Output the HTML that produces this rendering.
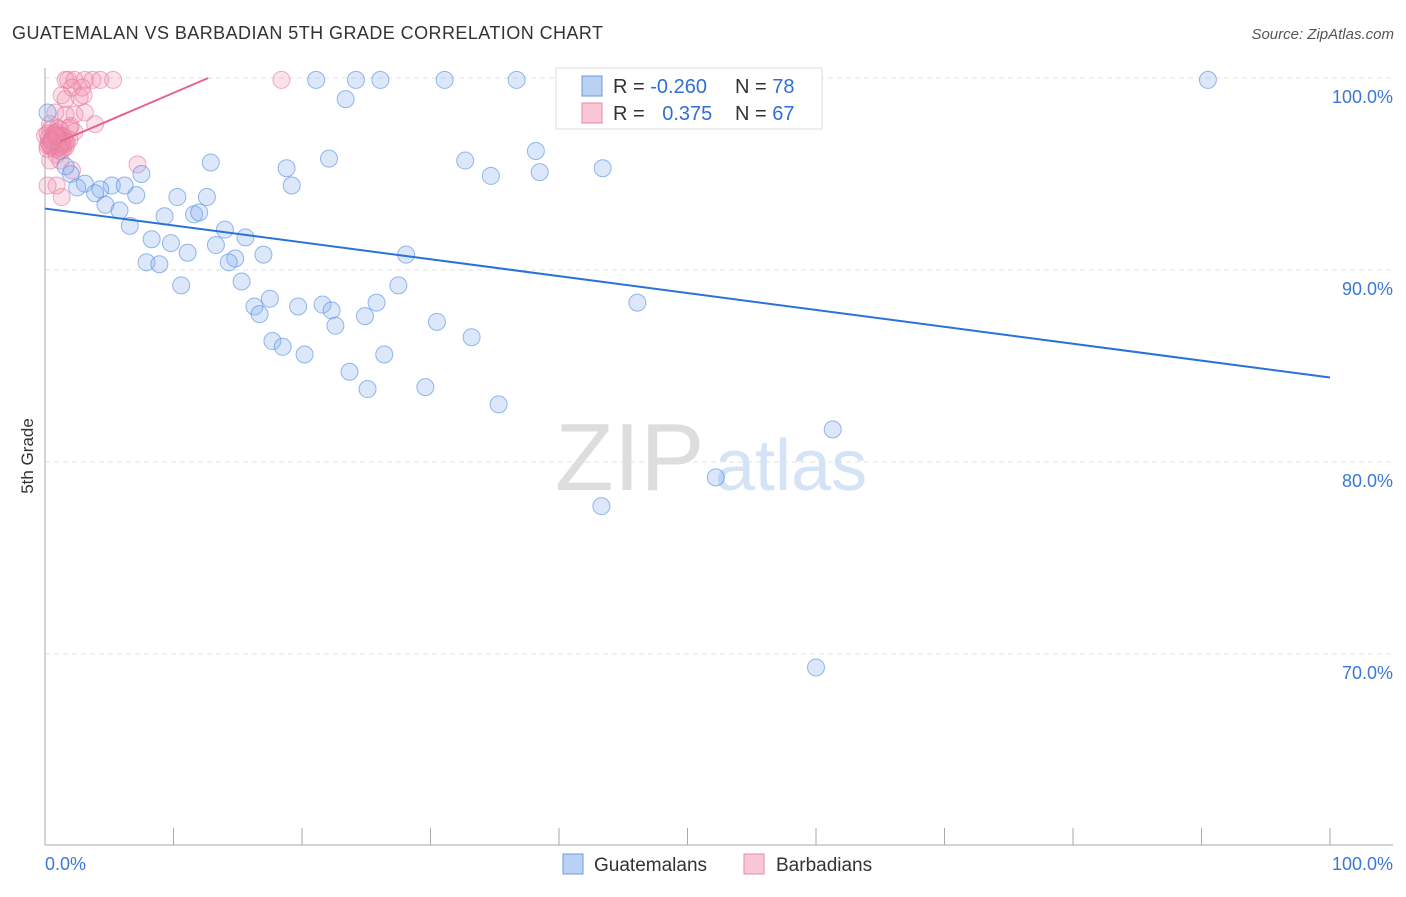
<!DOCTYPE html>
<html><head><meta charset="utf-8"><style>
body{margin:0;background:#fff;font-family:"Liberation Sans",sans-serif;}
svg text{font-family:"Liberation Sans",sans-serif;}
</style></head><body>
<svg id="chart" width="1406" height="892" xmlns="http://www.w3.org/2000/svg">
<text x="12" y="39" font-size="18" fill="#333" textLength="591">GUATEMALAN VS BARBADIAN 5TH GRADE CORRELATION CHART</text>
<text x="1394" y="39" font-size="15" fill="#555" text-anchor="end" font-style="italic">Source: ZipAtlas.com</text>
<text x="33" y="456" font-size="17" fill="#333" transform="rotate(-90 33 456)" text-anchor="middle">5th Grade</text>
<g><text x="555" y="490" font-size="96" fill="#ddd" font-family="Liberation Serif">ZIP</text><text x="715" y="490" font-size="72" fill="#d4e3f5">atlas</text></g>
<g id="grid"></g><g id="axes"></g><g id="marks"></g>
<g>
<rect x="556" y="68" width="266" height="61" fill="#fff" stroke="#ddd"/>
<rect x="582" y="76" width="20" height="20" fill="#b9d1f3" stroke="#6d9be0"/>
<rect x="582" y="103" width="20" height="20" fill="#f8c6d4" stroke="#ea8aa8"/>
<text x="613" y="93" font-size="20" fill="#333">R = <tspan fill="#2f6fd6">-0.260</tspan></text>
<text x="735" y="93" font-size="20" fill="#333">N = <tspan fill="#2f6fd6">78</tspan></text>
<text x="613" y="120" font-size="20" fill="#333">R = <tspan fill="#2f6fd6" dx="12">0.375</tspan></text>
<text x="735" y="120" font-size="20" fill="#333">N = <tspan fill="#2f6fd6">67</tspan></text>
</g>
<g>
<rect x="563" y="854" width="20" height="20" fill="#b9d1f3" stroke="#6d9be0"/>
<text x="594" y="871" font-size="19" fill="#333">Guatemalans</text>
<rect x="744" y="854" width="20" height="20" fill="#f8c6d4" stroke="#ea8aa8"/>
<text x="776" y="871" font-size="19" fill="#333">Barbadians</text>
</g>
</svg>
<script>
const yTicks=[100,90,80,70];
const yTickLabels=["100.0%","90.0%","80.0%","70.0%"];
const xTicks=[0,10,20,30,40,50,60,70,80,90,100];
const xTickLabels=["0.0%","100.0%"];
const blueX=[21.1,24.2,26.1,31.1,36.7,58.5,90.5,23.4,0.2,38.2,22.1,32.7,12.9,18.8,43.4,38.5,34.7,7.5,2.0,1.6,19.2,3.1,5.2,6.2,2.5,4.3,3.9,7.1,10.3,12.6,4.7,5.8,9.3,11.6,12.0,6.6,14.0,8.3,15.6,9.8,13.3,28.1,11.1,17.0,14.8,14.3,7.9,8.9,15.3,10.6,27.5,17.5,46.1,16.3,19.7,21.6,22.3,25.8,16.7,24.9,22.6,30.5,33.2,17.7,18.5,20.2,26.4,23.7,25.1,29.6,35.3,61.3,52.2,43.3,60.0];
const blueY=[99.9,99.9,99.9,99.9,99.9,99.9,99.9,98.9,98.2,96.2,95.8,95.7,95.6,95.3,95.3,95.1,94.9,95.0,95.0,95.4,94.4,94.5,94.4,94.4,94.3,94.2,94.0,93.9,93.8,93.8,93.4,93.1,92.8,92.9,93.0,92.3,92.1,91.6,91.7,91.4,91.3,90.8,90.9,90.8,90.6,90.4,90.4,90.3,89.4,89.2,89.2,88.5,88.3,88.1,88.1,88.2,87.9,88.3,87.7,87.6,87.1,87.3,86.5,86.3,86.0,85.6,85.6,84.7,83.8,83.9,83.0,81.7,79.2,77.7,69.3];
const pinkX=[1.6,1.8,2.3,3.1,3.7,4.3,5.3,18.4,2.1,2.9,1.3,3.0,1.6,2.7,0.8,1.6,2.3,3.1,0.4,1.0,1.9,3.9,1.3,2.3,0.5,1.2,0.2,0.8,1.6,1.9,0.4,1.2,0.9,1.3,0.2,7.2,2.1,1.2,0.0,0.4,0.8,0.2,0.9,1.0,1.5,0.6,1.4,0.3,1.1,0.7,1.7,0.5,1.2,0.9,0.3,1.4,0.6,2.0,1.0,0.4,1.3,0.8,0.2,1.1,0.5,1.6,0.9];
const pinkY=[99.9,99.9,99.9,99.9,99.9,99.9,99.9,99.9,99.5,99.5,99.1,99.1,98.9,99.0,98.2,98.1,98.1,98.2,97.6,97.4,97.4,97.6,97.0,97.2,96.8,96.5,96.5,96.3,96.4,96.8,95.7,95.7,94.4,93.8,94.4,95.5,95.2,97.3,97.0,97.3,97.0,96.3,96.0,96.6,96.9,96.7,96.5,96.9,96.8,97.1,96.6,96.4,96.2,97.2,96.6,96.3,96.8,97.5,96.9,96.5,96.6,97.1,97.1,96.4,96.7,96.7,97.0];
const blueTrendX=[0,100], blueTrendY=[93.2,84.4];
const pinkTrendX=[1.2,12.7], pinkTrendY=[96.7,100];
const X=v=>45+v*12.85, Y=v=>78+(100-v)*19.2;
const NS="http://www.w3.org/2000/svg";
function mk(tag,parent,attrs){const e=document.createElementNS(NS,tag);for(const k in attrs)e.setAttribute(k,attrs[k]);document.getElementById(parent).appendChild(e);return e;}
yTicks.forEach((t,i)=>{
 const g=mk('line','grid',{x1:45,x2:1393,y1:Y(t),y2:Y(t),stroke:'#e2e2e2','stroke-dasharray':'5,4'});
 
 
 const l=mk('text','axes',{x:1393,y:Y(t)+25,'font-size':18,fill:'#3a78d8','text-anchor':'end'});
 l.textContent=yTickLabels[i];
 
 
});
const ya=mk('line','axes',{x1:45,x2:45,y1:68,y2:845,stroke:'#aaa'});


const xa=mk('line','axes',{x1:45,x2:1393,y1:845,y2:845,stroke:'#aaa'});


xTicks.forEach(t=>{
 const tk=mk('line','axes',{x1:X(t),x2:X(t),y1:828,y2:845,stroke:'#aaa'});
 
 
});
const xl0=mk('text','axes',{x:45,y:870,'font-size':18,fill:'#3a78d8'});xl0.textContent=xTickLabels[0];


const xl1=mk('text','axes',{x:1393,y:870,'font-size':18,fill:'#3a78d8','text-anchor':'end'});xl1.textContent=xTickLabels[1];


pinkX.forEach((v,i)=>{
 const c=mk('circle','marks',{cx:X(v),cy:Y(pinkY[i]),r:8.5,fill:'rgba(240,140,170,0.25)',stroke:'rgba(232,120,155,0.6)','stroke-width':1});
 
 
});
blueX.forEach((v,i)=>{
 const c=mk('circle','marks',{cx:X(v),cy:Y(blueY[i]),r:8.5,fill:'rgba(140,180,240,0.3)',stroke:'rgba(80,140,225,0.6)','stroke-width':1});
 
 
});
const bt=mk('line','marks',{x1:X(blueTrendX[0]),y1:Y(blueTrendY[0]),x2:X(blueTrendX[1]),y2:Y(blueTrendY[1]),stroke:'#2a72d8','stroke-width':2});


const pt=mk('line','marks',{x1:X(pinkTrendX[0]),y1:Y(pinkTrendY[0]),x2:X(pinkTrendX[1]),y2:Y(pinkTrendY[1]),stroke:'#e8628f','stroke-width':2});


</script>
</body></html>
